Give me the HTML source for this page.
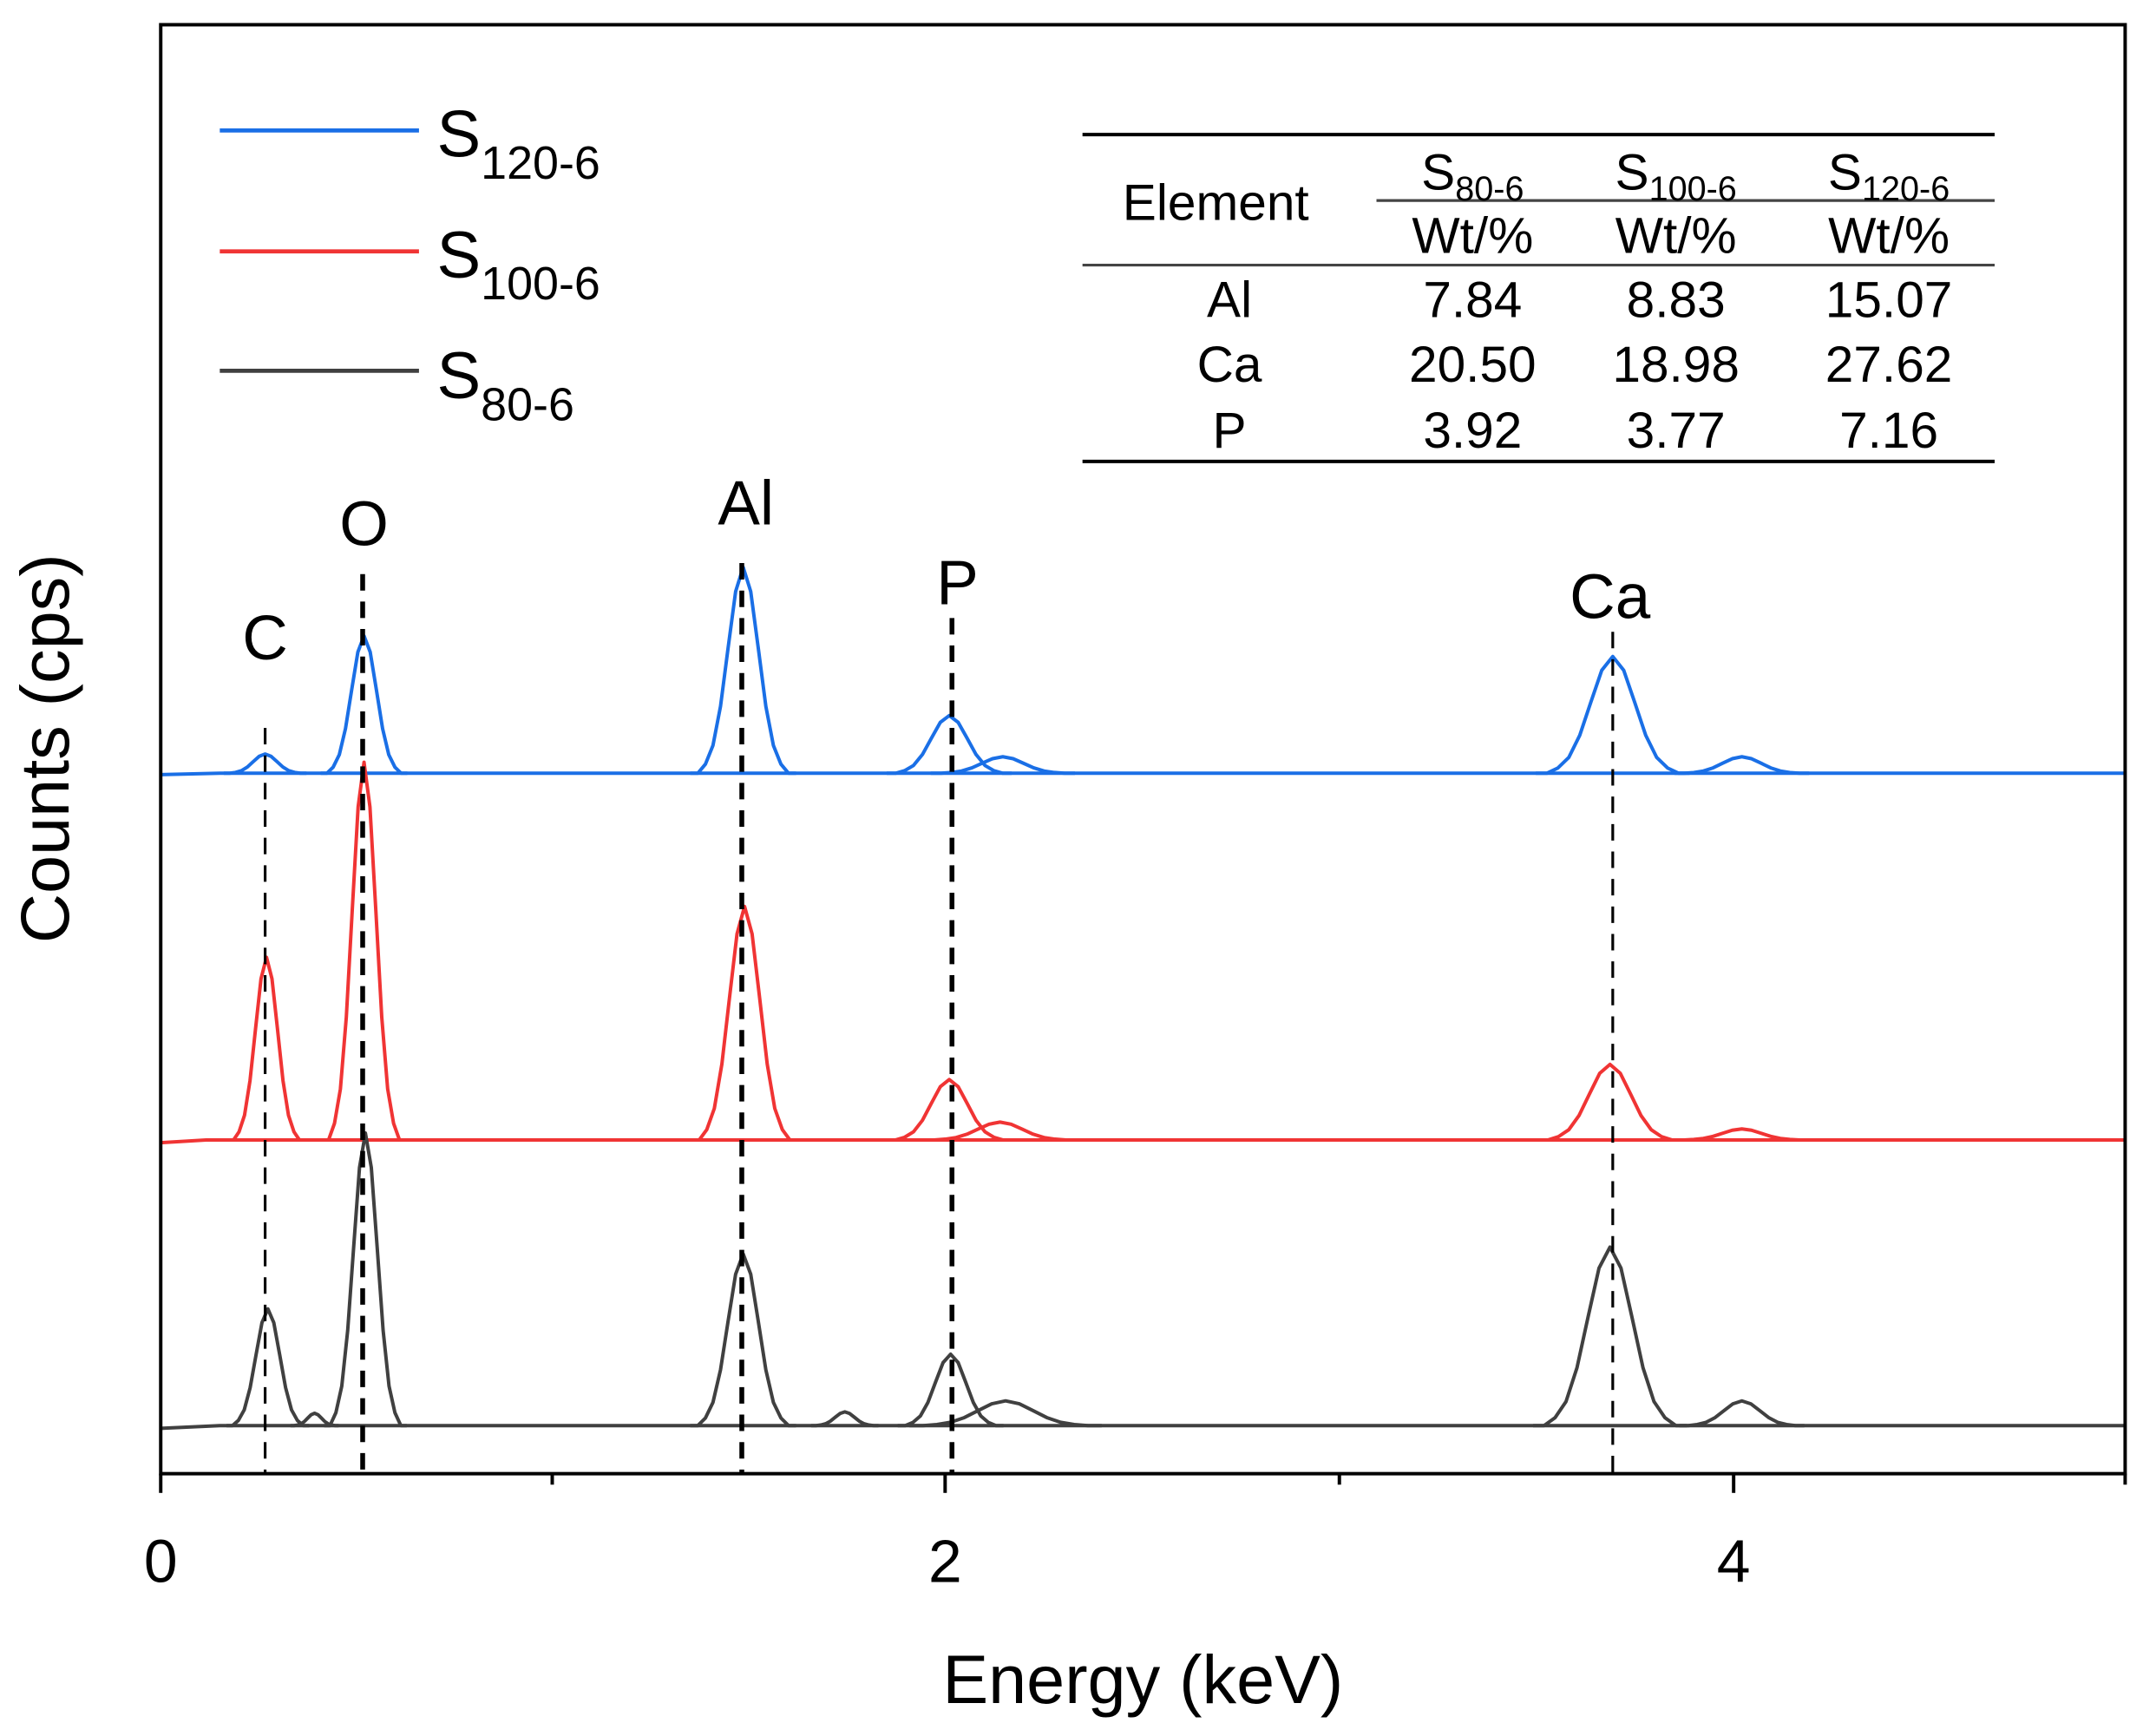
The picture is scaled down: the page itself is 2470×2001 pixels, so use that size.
<!DOCTYPE html>
<html><head><meta charset="utf-8"><style>
html,body{margin:0;padding:0;background:#fff;}
svg{display:block;}
text{font-family:"Liberation Sans",Arial,sans-serif;fill:#000;}
.pk{fill:none;stroke-width:4;vector-effect:non-scaling-stroke;stroke-linejoin:round;}
</style></head><body>
<svg width="2470" height="2001" viewBox="0 0 1560 1264" preserveAspectRatio="none" xmlns="http://www.w3.org/2000/svg">
<rect x="0" y="0" width="1560" height="1264" fill="#fff"/>
<!-- blue -->
<g stroke="#1a6fe6">
<polyline class="pk" points="117,564 160,563 1547,563"/>
<path class="pk" transform="translate(193,563) scale(8.6,14)" d="M-3.5,0 L-3,0 -2.5,-0.044 -2,-0.135 -1.5,-0.325 -1,-0.607 -0.5,-0.882 0,-1 0.5,-0.882 1,-0.607 1.5,-0.325 2,-0.135 2.5,-0.044 3,0 3.5,0"/>
<path class="pk" transform="translate(265,563) scale(9,100)" d="M-3.5,0 L-3,0 -2.5,-0.044 -2,-0.135 -1.5,-0.325 -1,-0.607 -0.5,-0.882 0,-1 0.5,-0.882 1,-0.607 1.5,-0.325 2,-0.135 2.5,-0.044 3,0 3.5,0"/>
<path class="pk" transform="translate(541,563) scale(11,150)" d="M-3.5,0 L-3,0 -2.5,-0.044 -2,-0.135 -1.5,-0.325 -1,-0.607 -0.5,-0.882 0,-1 0.5,-0.882 1,-0.607 1.5,-0.325 2,-0.135 2.5,-0.044 3,0 3.5,0"/>
<path class="pk" transform="translate(691,563) scale(13,42)" d="M-3.5,0 L-3,0 -2.5,-0.044 -2,-0.135 -1.5,-0.325 -1,-0.607 -0.5,-0.882 0,-1 0.5,-0.882 1,-0.607 1.5,-0.325 2,-0.135 2.5,-0.044 3,0 3.5,0"/>
<path class="pk" transform="translate(730,563) scale(15,12)" d="M-3.5,0 L-3,0 -2.5,-0.044 -2,-0.135 -1.5,-0.325 -1,-0.607 -0.5,-0.882 0,-1 0.5,-0.882 1,-0.607 1.5,-0.325 2,-0.135 2.5,-0.044 3,0 3.5,0"/>
<path class="pk" transform="translate(1174,563) scale(16,85)" d="M-3.5,0 L-3,0 -2.5,-0.044 -2,-0.135 -1.5,-0.325 -1,-0.607 -0.5,-0.882 0,-1 0.5,-0.882 1,-0.607 1.5,-0.325 2,-0.135 2.5,-0.044 3,0 3.5,0"/>
<path class="pk" transform="translate(1268,563) scale(14,12)" d="M-3.5,0 L-3,0 -2.5,-0.044 -2,-0.135 -1.5,-0.325 -1,-0.607 -0.5,-0.882 0,-1 0.5,-0.882 1,-0.607 1.5,-0.325 2,-0.135 2.5,-0.044 3,0 3.5,0"/>
</g>
<!-- red -->
<g stroke="#f03434">
<polyline class="pk" points="117,832 150,830 1547,830"/>
<path class="pk" transform="translate(194,830) scale(8,133)" d="M-3.5,0 L-3,0 -2.5,-0.044 -2,-0.135 -1.5,-0.325 -1,-0.607 -0.5,-0.882 0,-1 0.5,-0.882 1,-0.607 1.5,-0.325 2,-0.135 2.5,-0.044 3,0 3.5,0"/>
<path class="pk" transform="translate(265,830) scale(8.6,275)" d="M-3.5,0 L-3,0 -2.5,-0.044 -2,-0.135 -1.5,-0.325 -1,-0.607 -0.5,-0.882 0,-1 0.5,-0.882 1,-0.607 1.5,-0.325 2,-0.135 2.5,-0.044 3,0 3.5,0"/>
<path class="pk" transform="translate(542,830) scale(11,170)" d="M-3.5,0 L-3,0 -2.5,-0.044 -2,-0.135 -1.5,-0.325 -1,-0.607 -0.5,-0.882 0,-1 0.5,-0.882 1,-0.607 1.5,-0.325 2,-0.135 2.5,-0.044 3,0 3.5,0"/>
<path class="pk" transform="translate(691,830) scale(13,44)" d="M-3.5,0 L-3,0 -2.5,-0.044 -2,-0.135 -1.5,-0.325 -1,-0.607 -0.5,-0.882 0,-1 0.5,-0.882 1,-0.607 1.5,-0.325 2,-0.135 2.5,-0.044 3,0 3.5,0"/>
<path class="pk" transform="translate(728,830) scale(16,13)" d="M-3.5,0 L-3,0 -2.5,-0.044 -2,-0.135 -1.5,-0.325 -1,-0.607 -0.5,-0.882 0,-1 0.5,-0.882 1,-0.607 1.5,-0.325 2,-0.135 2.5,-0.044 3,0 3.5,0"/>
<path class="pk" transform="translate(1172,830) scale(15,55)" d="M-3.5,0 L-3,0 -2.5,-0.044 -2,-0.135 -1.5,-0.325 -1,-0.607 -0.5,-0.882 0,-1 0.5,-0.882 1,-0.607 1.5,-0.325 2,-0.135 2.5,-0.044 3,0 3.5,0"/>
<path class="pk" transform="translate(1268,830) scale(14,8)" d="M-3.5,0 L-3,0 -2.5,-0.044 -2,-0.135 -1.5,-0.325 -1,-0.607 -0.5,-0.882 0,-1 0.5,-0.882 1,-0.607 1.5,-0.325 2,-0.135 2.5,-0.044 3,0 3.5,0"/>
</g>
<!-- grey -->
<g stroke="#404040">
<polyline class="pk" points="117,1040 160,1038 1547,1038"/>
<path class="pk" transform="translate(195,1038) scale(8.6,85)" d="M-3.5,0 L-3,0 -2.5,-0.044 -2,-0.135 -1.5,-0.325 -1,-0.607 -0.5,-0.882 0,-1 0.5,-0.882 1,-0.607 1.5,-0.325 2,-0.135 2.5,-0.044 3,0 3.5,0"/>
<path class="pk" transform="translate(229,1038) scale(5,9)" d="M-3.5,0 L-3,0 -2.5,-0.044 -2,-0.135 -1.5,-0.325 -1,-0.607 -0.5,-0.882 0,-1 0.5,-0.882 1,-0.607 1.5,-0.325 2,-0.135 2.5,-0.044 3,0 3.5,0"/>
<path class="pk" transform="translate(266,1038) scale(8.6,213)" d="M-3.5,0 L-3,0 -2.5,-0.044 -2,-0.135 -1.5,-0.325 -1,-0.607 -0.5,-0.882 0,-1 0.5,-0.882 1,-0.607 1.5,-0.325 2,-0.135 2.5,-0.044 3,0 3.5,0"/>
<path class="pk" transform="translate(541,1038) scale(11,125)" d="M-3.5,0 L-3,0 -2.5,-0.044 -2,-0.135 -1.5,-0.325 -1,-0.607 -0.5,-0.882 0,-1 0.5,-0.882 1,-0.607 1.5,-0.325 2,-0.135 2.5,-0.044 3,0 3.5,0"/>
<path class="pk" transform="translate(615,1038) scale(7,10)" d="M-3.5,0 L-3,0 -2.5,-0.044 -2,-0.135 -1.5,-0.325 -1,-0.607 -0.5,-0.882 0,-1 0.5,-0.882 1,-0.607 1.5,-0.325 2,-0.135 2.5,-0.044 3,0 3.5,0"/>
<path class="pk" transform="translate(692,1038) scale(11,52)" d="M-3.5,0 L-3,0 -2.5,-0.044 -2,-0.135 -1.5,-0.325 -1,-0.607 -0.5,-0.882 0,-1 0.5,-0.882 1,-0.607 1.5,-0.325 2,-0.135 2.5,-0.044 3,0 3.5,0"/>
<path class="pk" transform="translate(732,1038) scale(20,18)" d="M-3.5,0 L-3,0 -2.5,-0.044 -2,-0.135 -1.5,-0.325 -1,-0.607 -0.5,-0.882 0,-1 0.5,-0.882 1,-0.607 1.5,-0.325 2,-0.135 2.5,-0.044 3,0 3.5,0"/>
<path class="pk" transform="translate(1172,1038) scale(16,130)" d="M-3.5,0 L-3,0 -2.5,-0.044 -2,-0.135 -1.5,-0.325 -1,-0.607 -0.5,-0.882 0,-1 0.5,-0.882 1,-0.607 1.5,-0.325 2,-0.135 2.5,-0.044 3,0 3.5,0"/>
<path class="pk" transform="translate(1268,1038) scale(13,18)" d="M-3.5,0 L-3,0 -2.5,-0.044 -2,-0.135 -1.5,-0.325 -1,-0.607 -0.5,-0.882 0,-1 0.5,-0.882 1,-0.607 1.5,-0.325 2,-0.135 2.5,-0.044 3,0 3.5,0"/>
</g>
<!-- dashed lines -->
<g stroke="#000" stroke-dasharray="12,8" fill="none">
<line x1="193" y1="530" x2="193" y2="1073" stroke-width="2"/>
<line x1="264" y1="418" x2="264" y2="1073" stroke-width="3.5"/>
<line x1="540" y1="410" x2="540" y2="1073" stroke-width="3.5"/>
<line x1="693" y1="450" x2="693" y2="1073" stroke-width="3.5"/>
<line x1="1174" y1="460" x2="1174" y2="1073" stroke-width="2"/>
</g>
<!-- frame -->
<rect x="117" y="18" width="1430" height="1055" fill="none" stroke="#000" stroke-width="2.5"/>
<g stroke="#000" stroke-width="2.5">
<line x1="117" y1="1073" x2="117" y2="1087"/>
<line x1="402" y1="1073" x2="402" y2="1081"/>
<line x1="688" y1="1073" x2="688" y2="1087"/>
<line x1="975" y1="1073" x2="975" y2="1081"/>
<line x1="1262" y1="1073" x2="1262" y2="1087"/>
<line x1="1547" y1="1073" x2="1547" y2="1081"/>
</g>
<g font-size="44" text-anchor="middle">
<text x="117" y="1152">0</text>
<text x="688" y="1152">2</text>
<text x="1262" y="1152">4</text>
</g>
<text x="832" y="1240" font-size="50" text-anchor="middle">Energy (keV)</text>
<text transform="translate(50,545) rotate(-90)" font-size="50" text-anchor="middle">Counts (cps)</text>
<!-- legend -->
<line x1="160" y1="95" x2="305" y2="95" stroke="#1a6fe6" stroke-width="3"/>
<line x1="160" y1="183" x2="305" y2="183" stroke="#f03434" stroke-width="3"/>
<line x1="160" y1="270" x2="305" y2="270" stroke="#404040" stroke-width="3"/>
<text x="318" y="114" font-size="48">S<tspan font-size="34" dy="16">120-6</tspan></text>
<text x="318" y="202" font-size="48">S<tspan font-size="34" dy="16">100-6</tspan></text>
<text x="318" y="290" font-size="48">S<tspan font-size="34" dy="16">80-6</tspan></text>
<!-- peak labels -->
<g font-size="46" text-anchor="middle">
<text x="193" y="480">C</text>
<text x="265" y="397">O</text>
<text x="543" y="382">Al</text>
<text x="697" y="440">P</text>
<text x="1172" y="450">Ca</text>
</g>
<!-- table -->
<g stroke="#000" stroke-width="2.5">
<line x1="788" y1="98" x2="1452" y2="98"/>
<line x1="1002" y1="146" x2="1452" y2="146" stroke="#444" stroke-width="2"/>
<line x1="788" y1="193" x2="1452" y2="193" stroke="#444" stroke-width="2"/>
<line x1="788" y1="336" x2="1452" y2="336"/>
</g>
<g font-size="37" text-anchor="middle">
<text x="885" y="160">Element</text>
<text x="1072" y="138">S<tspan font-size="25" dy="8">80-6</tspan></text>
<text x="1220" y="138">S<tspan font-size="25" dy="8">100-6</tspan></text>
<text x="1375" y="138">S<tspan font-size="25" dy="8">120-6</tspan></text>
<text x="1072" y="184">Wt/%</text>
<text x="1220" y="184">Wt/%</text>
<text x="1375" y="184">Wt/%</text>
<text x="895" y="231">Al</text><text x="1072" y="231">7.84</text><text x="1220" y="231">8.83</text><text x="1375" y="231">15.07</text>
<text x="895" y="278">Ca</text><text x="1072" y="278">20.50</text><text x="1220" y="278">18.98</text><text x="1375" y="278">27.62</text>
<text x="895" y="326">P</text><text x="1072" y="326">3.92</text><text x="1220" y="326">3.77</text><text x="1375" y="326">7.16</text>
</g>
</svg>
</body></html>
